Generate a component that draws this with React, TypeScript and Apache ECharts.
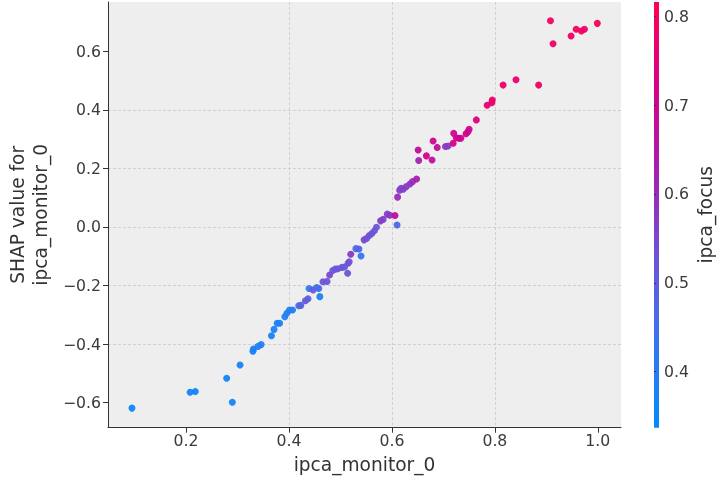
import React, { useEffect, useRef } from "react";
import * as echarts from "echarts";

const monitorValues = [
  0.095, 0.208, 0.218, 0.279, 0.29, 0.305, 0.33, 0.331, 0.34, 0.346,
  0.366, 0.371, 0.377, 0.382, 0.392, 0.396, 0.401, 0.407, 0.419, 0.423,
  0.432, 0.437, 0.439, 0.447, 0.454, 0.458, 0.46, 0.466, 0.474, 0.479,
  0.485, 0.49, 0.495, 0.503, 0.508, 0.514, 0.515, 0.517, 0.52, 0.53,
  0.536, 0.54, 0.546, 0.551, 0.556, 0.561, 0.566, 0.57, 0.578, 0.583,
  0.591, 0.596, 0.606, 0.61, 0.611, 0.615, 0.618, 0.622, 0.628, 0.635,
  0.64, 0.648, 0.652, 0.651, 0.667, 0.678, 0.68, 0.688, 0.704, 0.709,
  0.719, 0.72, 0.725, 0.73, 0.734, 0.744, 0.748, 0.75, 0.764, 0.785,
  0.794, 0.795, 0.816, 0.841, 0.885, 0.908, 0.913, 0.948, 0.958, 0.968,
  0.974, 0.999,
];

const shapValues = [
  -0.619, -0.565, -0.562, -0.517, -0.599, -0.472, -0.425, -0.417, -0.408, -0.402,
  -0.372, -0.35, -0.329, -0.329, -0.307, -0.295, -0.284, -0.284, -0.269, -0.268,
  -0.252, -0.245, -0.21, -0.215, -0.207, -0.21, -0.238, -0.187, -0.186, -0.164,
  -0.149, -0.144, -0.143, -0.138, -0.137, -0.158, -0.124, -0.119, -0.093, -0.074,
  -0.075, -0.099, -0.044, -0.039, -0.029, -0.022, -0.013, -0.001, 0.021, 0.026,
  0.044, 0.04, 0.039, 0.007, 0.102, 0.126, 0.132, 0.129, 0.138, 0.147,
  0.155, 0.164, 0.227, 0.263, 0.243, 0.229, 0.294, 0.272, 0.275, 0.277,
  0.286, 0.32, 0.305, 0.303, 0.303, 0.319, 0.326, 0.334, 0.366, 0.416,
  0.425, 0.434, 0.485, 0.503, 0.485, 0.705, 0.626, 0.653, 0.676, 0.67,
  0.676, 0.696,
];

const focusValues = [
  0.36, 0.37, 0.37, 0.37, 0.37, 0.38, 0.38, 0.38, 0.39, 0.39,
  0.38, 0.39, 0.38, 0.39, 0.39, 0.4, 0.4, 0.4, 0.47, 0.48,
  0.52, 0.5, 0.42, 0.52, 0.47, 0.45, 0.39, 0.52, 0.52, 0.55,
  0.52, 0.51, 0.52, 0.52, 0.51, 0.53, 0.54, 0.52, 0.58, 0.47,
  0.48, 0.42, 0.55, 0.53, 0.52, 0.53, 0.52, 0.52, 0.57, 0.56,
  0.57, 0.58, 0.68, 0.48, 0.6, 0.57, 0.55, 0.56, 0.57, 0.58,
  0.6, 0.63, 0.62, 0.68, 0.72, 0.67, 0.7, 0.68, 0.58, 0.57,
  0.72, 0.7, 0.7, 0.72, 0.7, 0.72, 0.7, 0.7, 0.74, 0.76,
  0.76, 0.77, 0.78, 0.77, 0.78, 0.79, 0.78, 0.78, 0.79, 0.79,
  0.78, 0.8,
];

const xTicks = [0.2, 0.4, 0.6, 0.8, 1.0];
const yTicks = [-0.6, -0.4, -0.2, 0.0, 0.2, 0.4, 0.6];
const colorTicks = [0.4, 0.5, 0.6, 0.7, 0.8];

const X_MIN = 0.0485;
const X_MAX = 1.045;
const Y_MIN = -0.686;
const Y_MAX = 0.769;
const C_MIN = 0.337;
const C_MAX = 0.816;

const palette = ["#008bfb", "#3676ef", "#7052d6", "#a51fb0", "#d6008a", "#ff0051"];

const FONT = "DejaVu Sans";
const TICK_FS = 15.7;
const TITLE_FS = 18.6;
const fmt = (v: number) => v.toFixed(1).replace("-", "\u2212");

export default function App() {
  const ref = useRef<HTMLDivElement>(null);
  useEffect(() => {
    if (!ref.current) return;
    const chart = echarts.init(ref.current, undefined, { renderer: "svg" });
    const data = monitorValues.map((x, i) => [x, shapValues[i], focusValues[i]]);
    const gradient = new echarts.graphic.LinearGradient(
      0, 1, 0, 0,
      palette.map((c, i) => ({ offset: i / (palette.length - 1), color: c }))
    );
    chart.setOption({
      animation: false,
      textStyle: { fontFamily: FONT },
      grid: [
        { left: 108, top: 2, width: 513, height: 425.7, show: true, backgroundColor: "#eeeeee", borderWidth: 0, outerBoundsMode: "none", containLabel: false },
        { left: 654, top: 2, width: 5, height: 425.7, show: true, backgroundColor: gradient, borderWidth: 0, outerBoundsMode: "none", containLabel: false },
      ],
      visualMap: {
        show: false,
        type: "continuous",
        dimension: 2,
        seriesIndex: 0,
        min: C_MIN,
        max: C_MAX,
        inRange: { color: palette },
      },
      xAxis: [
        {
          gridIndex: 0,
          type: "value",
          min: X_MIN,
          max: X_MAX,
          splitNumber: 5,
          name: "ipca_monitor_0",
          nameLocation: "middle",
          nameGap: 27,
          nameTextStyle: { fontSize: TITLE_FS, color: "#333", fontFamily: FONT },
          axisLine: { show: true, onZero: false, lineStyle: { color: "#333", width: 1 } },
          axisTick: { show: true, customValues: xTicks, length: 5, lineStyle: { color: "#333" } },
          axisLabel: { customValues: xTicks, formatter: fmt, fontSize: TICK_FS, color: "#3a3a3a", margin: 5, fontFamily: FONT },
          splitLine: { show: true, showMinLine: false, showMaxLine: false, lineStyle: { color: "#c8c8c8", type: [3, 2], width: 0.8 } },
        },
        {
          gridIndex: 1,
          type: "value",
          min: 0,
          max: 1,
          show: false,
        },
      ],
      yAxis: [
        {
          gridIndex: 0,
          type: "value",
          min: Y_MIN,
          max: Y_MAX,
          splitNumber: 7,
          name: "SHAP value for\nipca_monitor_0",
          nameLocation: "middle",
          nameGap: 53,
          nameTextStyle: { fontSize: TITLE_FS, color: "#333", fontFamily: FONT, lineHeight: 23 },
          axisLine: { show: true, onZero: false, lineStyle: { color: "#333", width: 1 } },
          axisTick: { show: true, customValues: yTicks, length: 5, lineStyle: { color: "#333" } },
          axisLabel: { customValues: yTicks, formatter: fmt, fontSize: TICK_FS, color: "#3a3a3a", margin: 7, fontFamily: FONT },
          splitLine: { show: true, showMinLine: false, showMaxLine: false, lineStyle: { color: "#c8c8c8", type: [3, 2], width: 0.8 } },
        },
        {
          gridIndex: 1,
          type: "value",
          position: "right",
          min: C_MIN,
          max: C_MAX,
          name: "ipca_focus",
          nameLocation: "middle",
          nameRotate: 90,
          nameGap: 37,
          nameTextStyle: { fontSize: TITLE_FS, color: "#333", fontFamily: FONT },
          axisLine: { show: false },
          axisTick: { show: true, customValues: colorTicks, length: 2, inside: false, lineStyle: { color: "#333" } },
          axisLabel: { customValues: colorTicks, formatter: fmt, fontSize: TICK_FS, color: "#3a3a3a", margin: 5, fontFamily: FONT },
          splitLine: { show: false },
        },
      ],
      series: [
        {
          type: "scatter",
          xAxisIndex: 0,
          yAxisIndex: 0,
          data,
          symbolSize: 7,
          itemStyle: { opacity: 0.95 },
        },
        {
          type: "scatter",
          xAxisIndex: 1,
          yAxisIndex: 1,
          data: [],
        },
      ],
    });
    return () => chart.dispose();
  }, []);
  return <div ref={ref} style={{ position: "fixed", left: 0, top: 0, width: 718, height: 483 }} />;
}
